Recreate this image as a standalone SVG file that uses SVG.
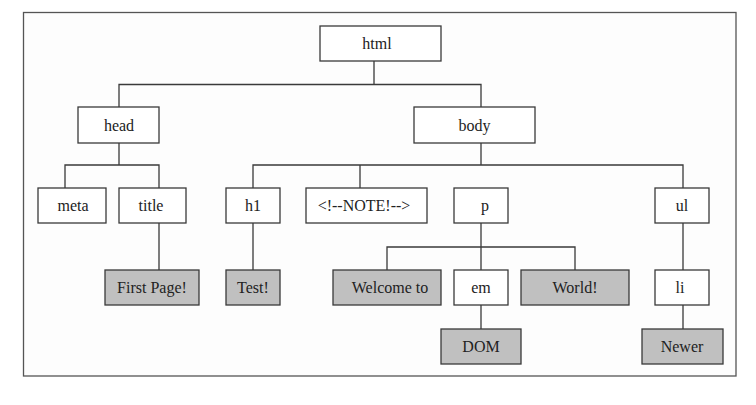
<svg xmlns="http://www.w3.org/2000/svg" width="756" height="405" viewBox="0 0 756 405">
<style>
.n rect{fill:#ffffff;stroke:#3a3a3a;stroke-width:1.3}
.t rect{fill:#c0c0c0;stroke:#3a3a3a;stroke-width:1.3}
text{font-family:"Liberation Serif","Times New Roman",serif;font-size:16px;fill:#222;text-anchor:middle}
#connectors path{fill:none;stroke:#3a3a3a;stroke-width:1.3}
</style>
<rect x="0" y="0" width="756" height="405" fill="#ffffff"/>
<rect id="frame" x="23.5" y="12.5" width="712.5" height="363.5" fill="#fdfdfd" stroke="#555" stroke-width="1.3"/>
<g id="connectors">
<path d="M374 61V84.5M119 107V84.5H481V107"/>
<path d="M119 143V165M65 188V165H159V188"/>
<path d="M481 143V165M253 188V165H683V188M360 165V188"/>
<path d="M159 223V270M253 223V270"/>
<path d="M481 223V270M387 270V247H575V270"/>
<path d="M481 305V329"/>
<path d="M683 223V270M683 305V329"/>
</g>
<g id="html" class="n"><rect x="320" y="26" width="121" height="35"/><text x="377" y="48.5">html</text></g>
<g id="head" class="n"><rect x="78" y="107" width="81" height="36"/><text x="119" y="130.5">head</text></g>
<g id="body" class="n"><rect x="414" y="107" width="121" height="36"/><text x="474.5" y="130.5">body</text></g>
<g id="meta" class="n"><rect x="38" y="188" width="68" height="35"/><text x="73" y="211">meta</text></g>
<g id="title" class="n"><rect x="119" y="188" width="67" height="35"/><text x="151" y="211">title</text></g>
<g id="h1" class="n"><rect x="226" y="188" width="54" height="35"/><text x="253" y="211">h1</text></g>
<g id="note" class="n"><rect x="306" y="188" width="121" height="35"/><text x="364" y="211">&lt;!--NOTE!--&gt;</text></g>
<g id="p" class="n"><rect x="454" y="188" width="54" height="35"/><text x="485" y="211">p</text></g>
<g id="ul" class="n"><rect x="655" y="188" width="54" height="35"/><text x="682" y="211">ul</text></g>
<g id="firstpage" class="t"><rect x="105" y="270" width="94" height="35"/><text x="152" y="293">First Page!</text></g>
<g id="test" class="t"><rect x="226" y="270" width="54" height="35"/><text x="253" y="293">Test!</text></g>
<g id="welcome" class="t"><rect x="333" y="270" width="108" height="35"/><text x="390" y="293">Welcome to</text></g>
<g id="em" class="n"><rect x="454" y="270" width="54" height="35"/><text x="481" y="293">em</text></g>
<g id="world" class="t"><rect x="521" y="270" width="108" height="35"/><text x="575" y="293">World!</text></g>
<g id="li" class="n"><rect x="655" y="270" width="54" height="35"/><text x="680" y="293">li</text></g>
<g id="dom" class="t"><rect x="441" y="329" width="80" height="35"/><text x="481" y="352">DOM</text></g>
<g id="newer" class="t"><rect x="642" y="329" width="81" height="35"/><text x="682" y="352">Newer</text></g>
</svg>
